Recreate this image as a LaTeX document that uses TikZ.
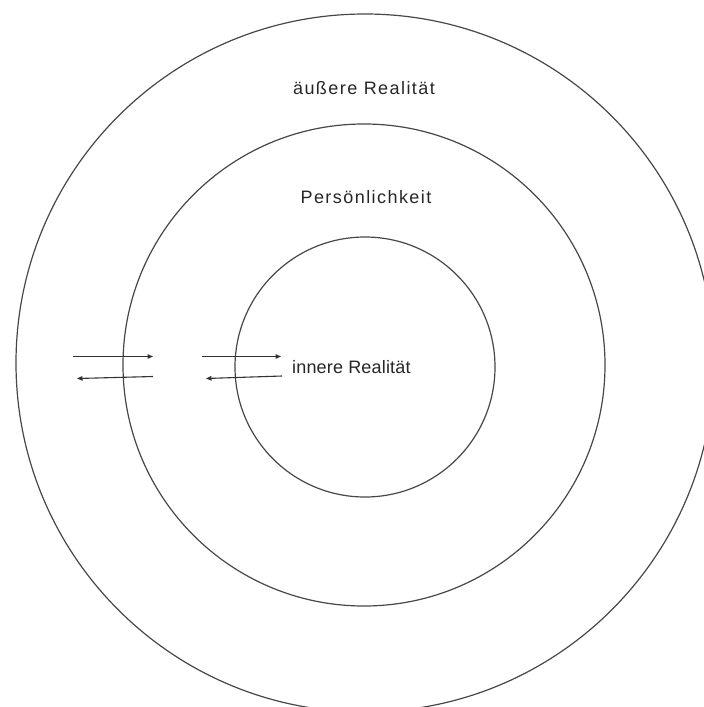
\documentclass[tikz,border=0pt]{standalone}
\usepackage{fontspec}
\newfontfamily\lbl[LetterSpace=8]{Liberation Sans}
\newfontfamily\lblin[LetterSpace=1]{Liberation Sans}
\usetikzlibrary{arrows.meta}
\begin{document}
\begin{tikzpicture}[x=1pt,y=-1pt,
  ring/.style={draw=black!72,line width=1.2pt},
  flow/.style={draw=black!80,line width=1.1pt,-{Triangle[length=5.5pt,width=4.5pt]}},
  lab/.style={font=\lbl\fontsize{18}{21}\selectfont,text=black!85,inner sep=0pt},
  labin/.style={font=\lblin\fontsize{18}{21}\selectfont,text=black!85,inner sep=0pt}]
\useasboundingbox (0,0) rectangle (704,707);
\node[ring,circle,minimum size=698pt,inner sep=0pt] (outer) at (365,363) {};
\node[ring,circle,minimum size=482pt,inner sep=0pt] (middle) at (364,365) {};
\node[ring,circle,minimum size=260pt,inner sep=0pt] (inner) at (365,367) {};
\node[lab] (ta) at (364,88) {äußere Realität};
\node[lab] (tp) at (366,197) {Persönlichkeit};
\node[labin,anchor=west] (ti) at (292,367) {innere Realität};
\coordinate (a1s) at (73,356.5);
\coordinate (a1e) at (153,356.5);
\coordinate (a2s) at (153,376.5);
\coordinate (a2e) at (77,378.5);
\coordinate (b1s) at (202,356.5);
\coordinate (b1e) at (281,356.5);
\coordinate (b2s) at (282,376);
\coordinate (b2e) at (206,378.5);
\draw[flow] (a1s) -- (a1e);
\draw[flow] (a2s) -- (a2e);
\draw[flow] (b1s) -- (b1e);
\draw[flow] (b2s) -- (b2e);
\end{tikzpicture}
\end{document}
